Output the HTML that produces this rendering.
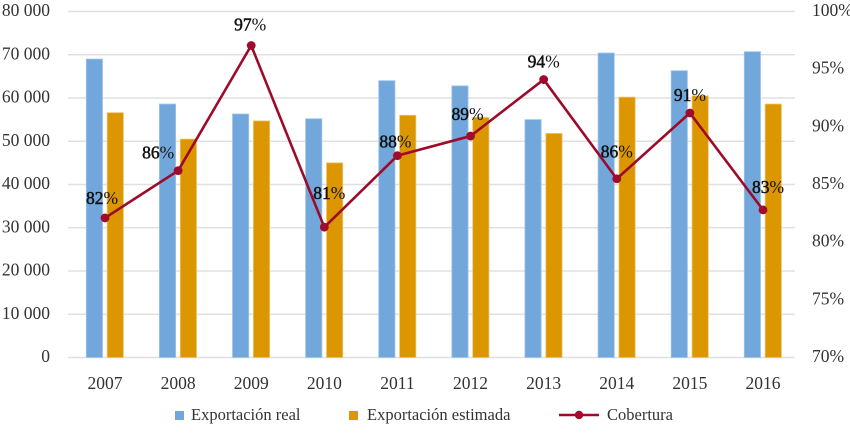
<!DOCTYPE html>
<html lang="es">
<head>
<meta charset="utf-8">
<title>Exportación real y estimada</title>
<style>
html,body{margin:0;padding:0;background:#fff;}
svg{display:block;font-family:"Liberation Serif",serif;}
</style>
</head>
<body>
<svg id="chart" width="850" height="434" viewBox="0 0 850 434" xmlns="http://www.w3.org/2000/svg"></svg>
<script>
const categories = ['2007','2008','2009','2010','2011','2012','2013','2014','2015','2016'];
const realExports = [69000,58600,56300,55200,64000,62800,55000,70400,66300,70700];
const estimatedExports = [56600,50500,54700,45000,56000,55500,51800,60200,60500,58600];
const coverage = [82.1,86.2,97.05,81.3,87.5,89.2,94.1,85.5,91.2,82.8];
const leftTicks = [0,10000,20000,30000,40000,50000,60000,70000,80000];
const leftTickLabels = ['0','10 000','20 000','30 000','40 000','50 000','60 000','70 000','80 000'];
const rightTicks = [70,75,80,85,90,95,100];
const rightTickLabels = ['70%','75%','80%','85%','90%','95%','100%'];
const legendLabels = ['Exportación real','Exportación estimada','Cobertura'];

const svg = document.getElementById('chart');
const NS = 'http://www.w3.org/2000/svg';
const yLeft = v => 357.5 - v / 80000 * 346;
const yRight = v => 357.5 - (v - 70) / 30 * 346;
const xCenter = i => 105 + i * 73.11;

function make(tag, attrs, text) {
  const el = document.createElementNS(NS, tag);
  for (const k in attrs) el.setAttribute(k, attrs[k]);
  if (text !== undefined) el.textContent = text;
  svg.appendChild(el);
  return el;
}

leftTicks.forEach((t, i) => {
  const y = yLeft(t);
  const grid = make('line', {x1: 68, x2: 795, y1: y, y2: y, stroke: '#e0e0e0', 'stroke-width': 1.5});
  
  
  const label = make('text', {x: 50, y: y + 4.5, 'text-anchor': 'end', 'font-size': 17.5, fill: '#333'}, leftTickLabels[i]);
  
  
});

rightTicks.forEach((t, i) => {
  const label = make('text', {x: 812, y: yRight(t) + 4.5, 'font-size': 17.5, fill: '#333'}, rightTickLabels[i]);
  
  
});

categories.forEach((c, i) => {
  const cx = xCenter(i);
  const realBar = make('rect', {x: cx - 18.7, y: yLeft(realExports[i]), width: 16.2, height: yLeft(0) - yLeft(realExports[i]), fill: '#72a7db', stroke: '#9cc3e8', 'stroke-width': 0.8});
  
  
  const estBar = make('rect', {x: cx + 2.2, y: yLeft(estimatedExports[i]), width: 16.2, height: yLeft(0) - yLeft(estimatedExports[i]), fill: '#db9600', stroke: '#ecc26a', 'stroke-width': 0.8});
  
  
  const label = make('text', {x: cx, y: 389, 'text-anchor': 'middle', 'font-size': 17.5, fill: '#333'}, c);
  
  
});

const linePoints = coverage.map((v, i) => xCenter(i) + ',' + yRight(v)).join(' ');
const coverageLine = make('polyline', {points: linePoints, fill: 'none', stroke: '#9c0b2a', 'stroke-width': 2.6, 'stroke-linejoin': 'round'});



function drawPointLabels() {
  const nudgeX = [-3,-20,-1,5,-2,-3,0,0,0,5];
  const nudgeY = [-14,-12,-15,-28,-8,-16,-12,-21,-12,-17];
  coverage.forEach((v, i) => {
    const cx = xCenter(i), cy = yRight(v);
    const dot = make('circle', {cx: cx, cy: cy, r: 4.4, fill: '#a00c2c'});
    
    
    const label = make('text', {x: cx + nudgeX[i], y: cy + nudgeY[i], 'text-anchor': 'middle', 'font-size': 17.5, fill: '#111'});
    
    
    const digits = document.createElementNS(NS, 'tspan');
    digits.setAttribute('stroke', '#111');
    digits.setAttribute('stroke-width', '0.5');
    digits.textContent = String(Math.round(v));
    label.appendChild(digits);
    label.appendChild(document.createTextNode('%'));
  });
}
drawPointLabels();

const swatchReal = make('rect', {x: 175, y: 411, width: 9, height: 9, fill: '#72a7db'});


const legendReal = make('text', {x: 191, y: 420, 'font-size': 16.5, fill: '#333'}, legendLabels[0]);



const swatchEst = make('rect', {x: 349, y: 411, width: 9, height: 9, fill: '#db9600'});


const legendEst = make('text', {x: 367, y: 420, 'font-size': 16.5, fill: '#333'}, legendLabels[1]);



const legendLine = make('line', {x1: 559, x2: 599, y1: 415, y2: 415, stroke: '#9c0b2a', 'stroke-width': 2.6});


const legendDot = make('circle', {cx: 579, cy: 415, r: 4.2, fill: '#a00c2c'});


const legendCov = make('text', {x: 607, y: 420, 'font-size': 16.5, fill: '#333'}, legendLabels[2]);


</script>
</body>
</html>
